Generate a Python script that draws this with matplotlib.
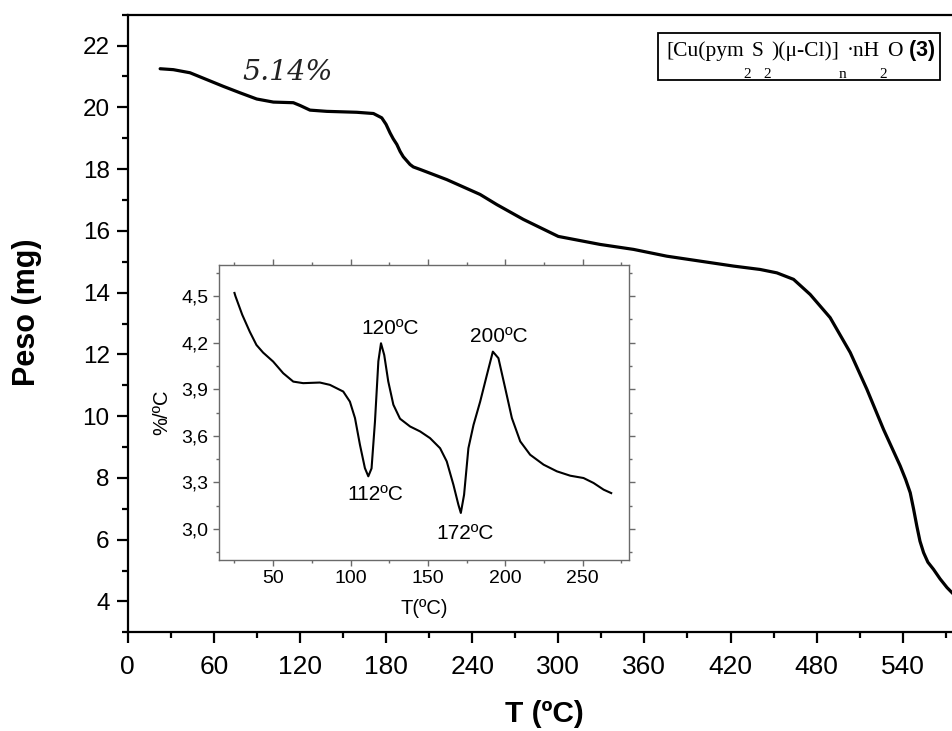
import matplotlib
matplotlib.use("Agg")
import matplotlib.pyplot as plt
from matplotlib.ticker import MultipleLocator
from matplotlib.patches import Rectangle

# ---- TGA curve: mass (mg) vs temperature (ºC) ----
tga_T = [22.6, 31.8, 43.4, 55.0, 66.6, 78.3, 89.9, 101.5, 115.4, 120.1, 127.0,
         138.7, 159.6, 171.2, 177.0, 180.0, 182.8, 185.0, 187.5, 189.8, 192.0,
         196.7, 199.0, 203.7, 222.3, 245.5, 257.2, 275.7, 300.0, 329.2, 352.4,
         375.6, 398.8, 422.0, 440.6, 452.3, 463.9, 475.5, 489.4, 503.4, 515.0,
         526.6, 538.2, 542.0, 545.2, 547.5, 549.8, 552.0, 554.5, 557.5, 561.4,
         566.0, 570.8, 575.0]
tga_m = [21.25, 21.22, 21.12, 20.90, 20.68, 20.47, 20.27, 20.17, 20.15, 20.06, 19.91,
         19.87, 19.84, 19.80, 19.66, 19.45, 19.17, 18.98, 18.80, 18.57, 18.40,
         18.15, 18.07, 17.99, 17.66, 17.18, 16.85, 16.37, 15.82, 15.56, 15.40,
         15.18, 15.02, 14.86, 14.75, 14.64, 14.43, 13.94, 13.19, 12.06, 10.87,
         9.57, 8.39, 7.95, 7.52, 7.00, 6.44, 5.95, 5.58, 5.27, 5.04,
         4.73, 4.45, 4.25]

x_ticks = [0, 60, 120, 180, 240, 300, 360, 420, 480, 540]
y_ticks = [4, 6, 8, 10, 12, 14, 16, 18, 20, 22]

# ---- DTG curve (inset): %/ºC vs temperature ----
dtg_T = [25.0, 25.6, 30.0, 34.9, 39.2, 43.5, 50.0, 56.5, 63.0, 69.4, 80.2, 86.7,
         95.3, 99.6, 102.9, 106.1, 109.3, 111.5, 113.6, 115.8, 118.0, 119.7,
         121.8, 124.4, 127.7, 132.0, 138.5, 145.0, 151.4, 157.9, 162.2, 166.5,
         169.7, 171.3, 173.4, 176.2, 179.5, 183.8, 188.1, 192.0, 195.6, 200.0,
         204.3, 209.7, 216.1, 224.8, 233.4, 242.0, 250.6, 257.1, 263.6, 268.5]
dtg_v = [4.52, 4.50, 4.38, 4.27, 4.185, 4.136, 4.078, 4.003, 3.949, 3.939, 3.943, 3.928,
         3.885, 3.82, 3.714, 3.542, 3.392, 3.339, 3.39, 3.69, 4.08, 4.196,
         4.12, 3.95, 3.80, 3.71, 3.66, 3.628, 3.585, 3.52, 3.435, 3.285,
         3.157, 3.103, 3.22, 3.52, 3.67, 3.82, 3.99, 4.142, 4.10, 3.906,
         3.714, 3.564, 3.478, 3.414, 3.371, 3.343, 3.328, 3.296, 3.253, 3.231]

inset_x_ticks = [50, 100, 150, 200, 250]
inset_y_ticks = [3.0, 3.3, 3.6, 3.9, 4.2, 4.5]
inset_y_labels = ["3,0", "3,3", "3,6", "3,9", "4,2", "4,5"]

peak_labels = ["120ºC", "200ºC", "112ºC", "172ºC"]
peak_label_T = [125.5, 195.6, 115.8, 174.0]
peak_label_v = [4.29, 4.24, 3.22, 2.97]

plt.rcParams["font.family"] = ["Liberation Sans", "DejaVu Sans"]

W, H = 953, 731
fig = plt.figure(figsize=(W / 100, H / 100), dpi=100)

# main axes (right side runs to the figure edge)
ax = fig.add_axes([127.7 / W, (H - 632.3) / H, (W - 127.7) / W, (632.3 - 14.7) / H])
ax.plot(tga_T, tga_m, color="black", lw=2.3, solid_joinstyle="round", solid_capstyle="round")
ax.set_xlim(0, 575)
ax.set_ylim(3, 23)
ax.spines["right"].set_visible(False)
for s in ("left", "bottom", "top"):
    ax.spines[s].set_linewidth(1.6)
ax.set_xticks(x_ticks)
ax.set_xticklabels([str(v) for v in x_ticks])
ax.set_yticks(y_ticks)
ax.set_yticklabels([str(v) for v in y_ticks])
ax.xaxis.set_minor_locator(MultipleLocator(30))
ax.yaxis.set_minor_locator(MultipleLocator(1))
ax.tick_params(which="major", direction="out", length=8, width=1.6)
ax.tick_params(which="minor", direction="out", length=4.5, width=1.6)
ax.tick_params(axis="x", which="major", pad=8, labelsize=19)
ax.tick_params(axis="y", which="major", pad=5, labelsize=17.5)

fig.text(27.5 / W, 1 - 312 / H, "Peso (mg)", rotation=90, ha="center", va="center",
         fontsize=22, fontweight="bold")
fig.text(544 / W, 1 - 722 / H, "T (ºC)", ha="center", va="baseline",
         fontsize=21.5, fontweight="bold")

fig.text(288 / W, 1 - 72 / H, "5.14%", ha="center", va="center", fontsize=20.5,
         family="DejaVu Serif", style="italic", color="#222222")

# formula box
fig.add_artist(Rectangle((658 / W, 1 - 80 / H), (940 - 658) / W, (80 - 33) / H,
                         transform=fig.transFigure, fill=False, lw=1.3, ec="black"))

serif = dict(family="Liberation Serif", fontsize=15.5)
sub = dict(family="Liberation Serif", fontsize=11)
pieces = [("[Cu(pym", serif, 0), ("2", sub, -1), ("S", serif, 1), ("2", sub, -1),
          (")(μ-Cl)]", serif, 1), ("n", sub, -1), ("·nH", serif, 1), ("2", sub, -1),
          ("O", serif, 1)]
drop = 20.0
prev = fig.text(666 / W, 1 - 56 / H, pieces[0][0], va="baseline", ha="left", **pieces[0][1])
for txt, style, step in pieces[1:]:
    prev = ax.annotate(txt, xy=(1, 0), xycoords=prev, xytext=(0, step * drop),
                       textcoords="offset pixels", va="bottom", ha="left",
                       annotation_clip=False, **style)
ax.annotate(" (3)", xy=(1, 0), xycoords=prev, xytext=(0, 0),
            textcoords="offset pixels", va="bottom", ha="left",
            annotation_clip=False, fontsize=15.5, fontweight="bold")

# inset with the derivative curve
axin = fig.add_axes([219 / W, (H - 560) / H, 410 / W, 295 / H])
axin.plot(dtg_T, dtg_v, color="black", lw=1.5, solid_joinstyle="round")
axin.set_xlim(15, 280)
axin.set_ylim(2.8, 4.7)
for s in axin.spines.values():
    s.set_color("#6a6a6a")
    s.set_linewidth(1.0)
axin.set_xticks(inset_x_ticks)
axin.set_xticklabels([str(v) for v in inset_x_ticks])
axin.set_yticks(inset_y_ticks)
axin.set_yticklabels(inset_y_labels)
axin.xaxis.set_minor_locator(MultipleLocator(25))
axin.yaxis.set_minor_locator(MultipleLocator(0.15))
axin.tick_params(which="both", direction="out", color="#6a6a6a", width=1.0,
                 labelsize=14, top=True, right=True)
axin.tick_params(which="major", length=4)
axin.tick_params(which="minor", length=2.5)
axin.set_xlabel("T(ºC)", fontsize=14.5, labelpad=8)
axin.set_ylabel("%/ºC", fontsize=14.5, labelpad=7)
for lab, tx, tv in zip(peak_labels, peak_label_T, peak_label_v):
    axin.text(tx, tv, lab, ha="center", va="center", fontsize=15)

fig.savefig("out.png", dpi=100)
